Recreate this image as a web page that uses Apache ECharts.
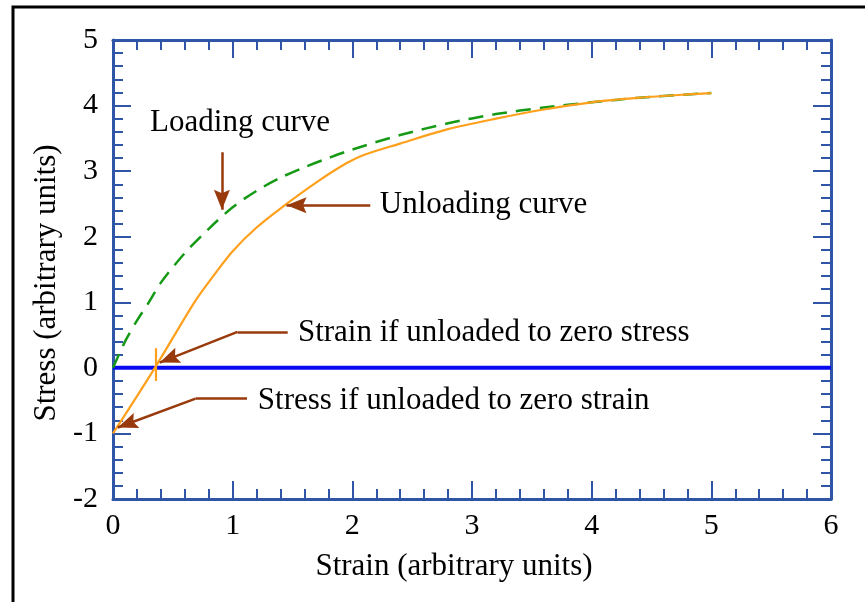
<!DOCTYPE html>
<html>
<head>
<meta charset="utf-8">
<script src="https://cdn.jsdelivr.net/npm/echarts@6/dist/echarts.min.js"></script>
<style>html,body{margin:0;padding:0;background:#fff;}#c{width:865px;height:602px;}</style>
</head>
<body>
<div id="c"></div>
<script>
// Curve data (strain, stress)
const loadingCurve = [[0,0],[0.1,0.4],[0.2,0.72],[0.3,1.0],[0.4,1.3],[0.6,1.75],[0.8,2.12],[1.0,2.45],[1.2,2.7],[1.4,2.9],[1.6,3.06],[1.8,3.2],[2.0,3.33],[2.4,3.55],[2.8,3.73],[3.2,3.87],[3.6,3.97],[4.0,4.05],[4.4,4.12],[4.8,4.17],[5.0,4.19]];
const unloadingCurve = [[0,-1],[0.35,0],[0.68,1.0],[0.85,1.43],[1.0,1.78],[1.2,2.14],[1.45,2.5],[1.7,2.83],[1.95,3.12],[2.1,3.25],[2.4,3.42],[2.8,3.64],[3.2,3.8],[3.6,3.94],[4.0,4.05],[4.4,4.12],[4.8,4.17],[5.0,4.19]];
const zeroLine = [[0,0],[6,0]];
// Annotations (data coords)
const annotationTexts = [
  {text:'Loading curve', at:[0.31,3.73]},
  {text:'Unloading curve', at:[2.23,2.48]},
  {text:'Strain if unloaded to zero stress', at:[1.545,0.53]},
  {text:'Stress if unloaded to zero strain', at:[1.21,-0.50]}
];
const arrowPaths = [
  [[0.91,3.29],[0.91,2.41]],
  [[2.15,2.48],[1.45,2.48]],
  [[1.46,0.55],[1.04,0.55],[0.39,0.08]],
  [[1.12,-0.47],[0.69,-0.47],[0.04,-0.91]]
];
const strainMark = [[0.36,0.3],[0.36,-0.2]];
const xRange = [0,6];
const yRange = [-2,5];

const FONT = '"Liberation Serif","Times New Roman",serif';
const AX = '#2f55a6';
const BROWN = '#993a0c';

const bodySegs = [], headSegs = [];
arrowPaths.forEach(p => {
  for (let i = 0; i < p.length - 1; i++) {
    const seg = {coords:[p[i], p[i+1]]};
    if (i === p.length - 2) headSegs.push(seg); else bodySegs.push(seg);
  }
});

const chart = echarts.init(document.getElementById('c'), null, {renderer:'canvas'});
function axisBase(show){
  return {
    type:'value', interval:1,
    axisLine:{show:true, onZero:false, lineStyle:{color:AX, width:3}},
    axisTick:{show:true, inside:true, length:18, lineStyle:{color:AX, width:2}},
    minorTick:{show:true, splitNumber:5, length:10, lineStyle:{color:AX, width:2}},
    splitLine:{show:false},
    axisLabel:{show:show, color:'#000', fontFamily:FONT, fontSize:30}
  };
}
const xb = Object.assign(axisBase(true), {min:xRange[0], max:xRange[1], position:'bottom'});
xb.axisLabel.margin = 12;
const xt = Object.assign(axisBase(false), {min:xRange[0], max:xRange[1], position:'top'});
const yl = Object.assign(axisBase(true), {min:yRange[0], max:yRange[1], position:'left'});
yl.axisLabel.margin = 15;
const yr = Object.assign(axisBase(false), {min:yRange[0], max:yRange[1], position:'right'});

// arrow head with its tip at the centre of a 40x40 square box (tiny corner specks fix the box)
const ARROW = 'path://M0,0L8,20L0,16.5L-8,20Z M-20,-20L-19.99,-20L-20,-19.99Z M20,20L19.99,20L20,19.99Z';

chart.setOption({
  animation:false,
  backgroundColor:'#fff',
  grid:{left:113, right:34, top:40, bottom:103},
  xAxis:[xb, xt],
  yAxis:[yl, yr],
  series:[
    {type:'line', data:zeroLine, showSymbol:false, symbol:'none', lineStyle:{color:'#0a0af0', width:4}, z:2},
    {type:'line', data:loadingCurve, smooth:0.3, symbol:'none', lineStyle:{color:'#169a16', width:2.5, type:[15,9]}, z:3},
    {type:'line', data:unloadingCurve, smooth:0.3, symbol:'none', lineStyle:{color:'#ffa01c', width:2.2}, z:4},
    {type:'lines', coordinateSystem:'cartesian2d', data:[{coords:strainMark}], symbol:'none', lineStyle:{color:'#ffa01c', width:2.2, opacity:1}, z:4},
    {type:'lines', coordinateSystem:'cartesian2d', data:bodySegs, symbol:'none',
      lineStyle:{color:BROWN, width:2.5, opacity:1}, z:5},
    {type:'lines', coordinateSystem:'cartesian2d', data:headSegs,
      symbol:['none', ARROW], symbolSize:40,
      lineStyle:{color:BROWN, width:2.5, opacity:1}, z:5}
  ]
});

const g = [
  {type:'rect', shape:{x:13, y:7, width:900, height:700}, style:{fill:'none', stroke:'#000', lineWidth:3}, z:100},
  {type:'text', x:454, y:567, style:{text:'Strain (arbitrary units)', font:'31px '+FONT, fill:'#000', align:'center', verticalAlign:'middle'}},
  {type:'text', x:47, y:283, rotation:Math.PI/2, style:{text:'Stress (arbitrary units)', font:'31px '+FONT, fill:'#000', align:'center', verticalAlign:'middle'}}
];
annotationTexts.forEach(a => {
  const p = chart.convertToPixel({gridIndex:0}, a.at);
  g.push({type:'text', x:p[0], y:p[1], z:10, style:{text:a.text, font:'31px '+FONT, fill:'#000', align:'left', verticalAlign:'middle'}});
});
chart.setOption({graphic:g});
</script>
</body>
</html>
